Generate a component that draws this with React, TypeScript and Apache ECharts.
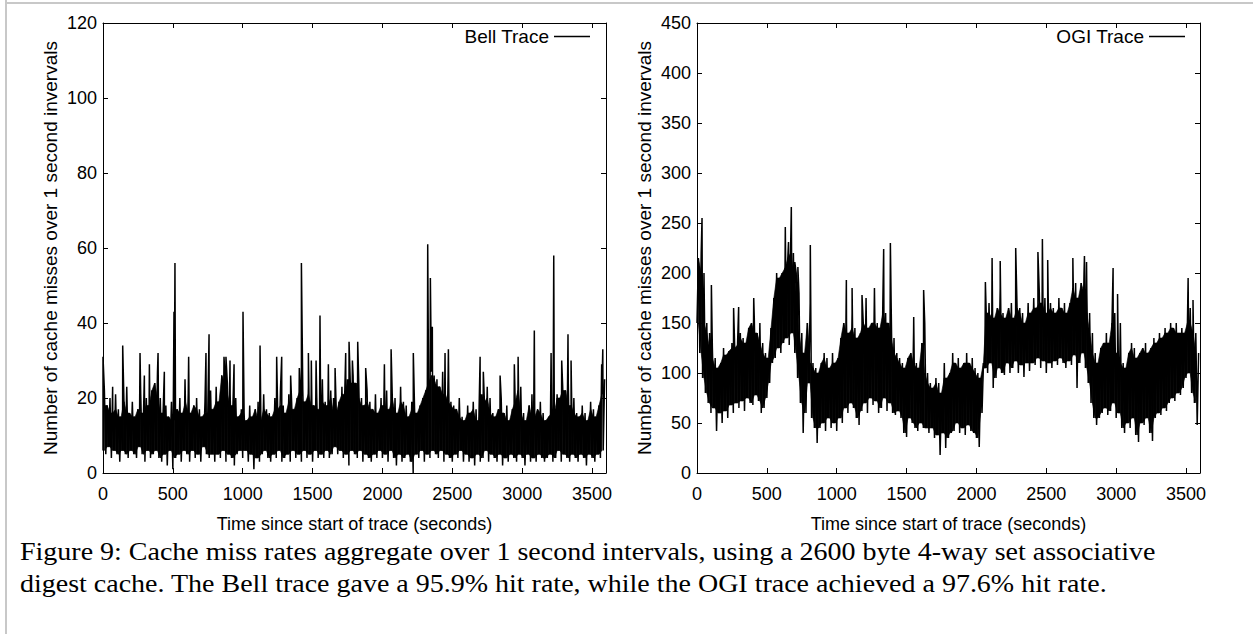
import React, { useEffect, useRef } from "react";
import * as echarts from "echarts";

// ---- data (20 s bins: low / high of the dense band, plus isolated spikes) ----
const BIN_SECONDS = 20;
const xTickMax = 3600;
const bellYMax = 120;
const ogiYMax = 450;

const bellLow = [
  6, 5, 7, 4, 6, 5, 3, 6, 5, 4,
  6, 5, 4, 7, 5, 3, 6, 4, 5, 6,
  4, 3, 5, 2, 6, 1, 4, 5, 3, 6,
  5, 3, 6, 4, 5, 3, 7, 5, 4, 5,
  3, 5, 4, 6, 3, 5, 4, 2, 5, 6,
  4, 6, 3, 5, 1, 4, 3, 5, 6, 4,
  3, 5, 4, 6, 3, 4, 5, 3, 6, 4,
  5, 3, 6, 4, 5, 3, 6, 4, 5, 4,
  6, 4, 5, 7, 5, 6, 4, 5, 2, 6,
  5, 4, 6, 3, 5, 4, 3, 5, 4, 6,
  4, 5, 3, 6, 4, 2, 5, 3, 4, 5,
  3, 0, 5, 4, 6, 3, 5, 4, 6, 5,
  4, 6, 3, 5, 4, 3, 5, 4, 6, 3,
  5, 3, 4, 2, 5, 3, 4, 6, 3, 5,
  4, 3, 5, 2, 4, 3, 5, 4, 3, 5,
  4, 2, 5, 3, 4, 3, 5, 4, 3, 4,
  5, 3, 4, 6, 3, 5, 4, 3, 5, 4,
  3, 5, 4, 2, 5, 4, 3, 5, 4, 6,
];

const bellHigh = [
  22, 18, 20, 16, 21, 17, 15, 19, 23, 16,
  19, 15, 17, 21, 16, 20, 18, 22, 24, 27,
  20, 16, 18, 15, 19, 14, 17, 20, 16, 19,
  21, 16, 18, 20, 17, 15, 19, 16, 22, 17,
  23, 19, 26, 28, 24, 21, 18, 20, 15, 17,
  16, 14, 18, 15, 17, 19, 14, 21, 17, 16,
  15, 20, 17, 22, 18, 16, 21, 19, 17, 20,
  24, 22, 19, 23, 21, 18, 20, 17, 25, 19,
  18, 22, 20, 16, 19, 23, 21, 25, 24, 26,
  24, 25, 20, 18, 22, 19, 17, 21, 16, 20,
  18, 22, 17, 21, 20, 16, 23, 19, 18, 15,
  19, 17, 16, 18, 20, 22, 24, 27, 26, 25,
  23, 25, 21, 26, 19, 18, 17, 20, 15, 14,
  18, 16, 19, 17, 14, 21, 19, 23, 20, 16,
  15, 17, 20, 16, 18, 14, 17, 19, 22, 23,
  16, 14, 18, 21, 15, 17, 19, 16, 14, 15,
  18, 16, 21, 20, 23, 22, 24, 18, 20, 16,
  15, 18, 16, 14, 19, 17, 15, 18, 21, 25,
];

const bellSpikes = [
  [0, 31], [69, 23], [141, 34], [265, 32], [296, 26], [332, 29], [394, 32], [439, 27],
  [508, 43], [515, 56], [587, 25], [613, 31], [737, 32], [759, 37], [866, 31], [880, 31],
  [909, 30], [938, 29], [1002, 43], [1124, 34], [1243, 31], [1279, 31], [1343, 26],
  [1405, 28], [1420, 56], [1470, 32], [1491, 30], [1525, 30], [1553, 42], [1613, 29],
  [1661, 28], [1737, 32], [1761, 35], [1785, 30], [1823, 35], [1880, 28], [2014, 29],
  [2062, 33], [2221, 32], [2324, 61], [2343, 52], [2357, 39], [2431, 27], [2448, 32],
  [2472, 33], [2699, 31], [2722, 27], [2842, 26], [2944, 29], [2971, 31], [3087, 38],
  [3207, 32], [3226, 58], [3283, 30], [3328, 37], [3350, 30], [3569, 29], [3577, 33],
];

const ogiLow = [
  150, 120, 95, 80, 70, 60, 65, 42, 60, 50,
  62, 55, 68, 60, 70, 65, 72, 62, 75, 70,
  68, 78, 72, 60, 65, 75, 90, 110, 115, 125,
  120, 130, 135, 128, 140, 120, 95, 70, 40, 60,
  90, 55, 45, 30, 45, 50, 42, 55, 45, 50,
  42, 55, 50, 65, 60, 70, 65, 55, 48, 62,
  70, 60, 75, 68, 72, 60, 65, 75, 62, 70,
  60, 58, 62, 55, 40, 36, 55, 50, 45, 42,
  50, 45, 45, 40, 45, 35, 38, 18, 40, 25,
  35, 40, 42, 50, 40, 45, 38, 48, 42, 40,
  35, 26, 60, 105, 100, 110, 85, 95, 105, 100,
  98, 110, 100, 105, 112, 100, 108, 96, 110, 102,
  110, 108, 115, 105, 112, 100, 110, 105, 112, 108,
  115, 110, 105, 112, 108, 118, 85, 110, 120, 105,
  90, 70, 55, 48, 55, 60, 65, 58, 62, 70,
  55, 60, 45, 40, 50, 45, 55, 38, 31, 50,
  48, 55, 40, 32, 55, 60, 58, 65, 62, 70,
  75, 72, 80, 78, 85, 95, 100, 80, 70, 48,
];

const ogiHigh = [
  215, 220, 200, 150, 140, 125, 115, 105, 110, 125,
  118, 122, 130, 125, 128, 140, 135, 130, 145, 150,
  155, 140, 150, 130, 120, 115, 145, 175, 200, 195,
  200, 205, 215, 225, 220, 200, 180, 140, 120, 150,
  170, 110, 105, 100, 110, 120, 115, 105, 120, 110,
  115, 135, 150, 150, 140, 160, 145, 135, 140, 150,
  175, 145, 150, 185, 150, 145, 170, 160, 150, 165,
  135, 120, 115, 110, 105, 115, 120, 140, 110, 105,
  130, 150, 100, 90, 85, 95, 90, 80, 110, 95,
  100, 120, 110, 115, 105, 110, 120, 110, 115, 105,
  100, 95, 110, 160, 170, 160, 155, 165, 185, 160,
  155, 165, 170, 155, 170, 165, 160, 150, 170, 160,
  175, 165, 180, 170, 175, 160, 170, 165, 160, 175,
  165, 170, 160, 170, 185, 190, 175, 190, 200, 180,
  160, 140, 120, 110, 125, 130, 140, 130, 150, 160,
  120, 150, 110, 105, 120, 130, 125, 115, 120, 125,
  130, 120, 125, 135, 130, 140, 135, 145, 140, 150,
  145, 150, 140, 145, 140, 150, 165, 150, 140, 120,
];

const ogiSpikes = [
  [36, 255], [103, 188], [262, 165], [298, 166], [406, 175], [632, 246], [655, 231],
  [675, 266], [700, 211], [722, 206], [811, 228], [1069, 193], [1110, 185], [1181, 178],
  [1272, 185], [1336, 224], [1384, 230], [1551, 156], [1622, 183], [2064, 191],
  [2112, 215], [2170, 212], [2281, 225], [2440, 221], [2472, 234], [2510, 213],
  [2690, 215], [2773, 217], [2788, 211], [2978, 205], [3010, 179], [3515, 195], [3550, 173],
];

const bellName = "Bell Trace";
const ogiName = "OGI Trace";
const xAxisTitle = "Time since start of trace (seconds)";
const yAxisTitle = "Number of cache misses over 1 second invervals";
const captionLines = [
  "Figure 9: Cache miss rates aggregate over 1 second intervals, using a 2600 byte 4-way set associative",
  "digest cache. The Bell trace gave a 95.9% hit rate, while the OGI trace achieved a 97.6% hit rate.",
];

// the trace: low of each bin, then its high, with the isolated spikes in time order
function buildTrace(low: number[], high: number[], spikes: number[][]) {
  const pts: number[][] = [];
  low.forEach((v, i) => {
    pts.push([i * BIN_SECONDS, v]);
    pts.push([i * BIN_SECONDS + BIN_SECONDS / 2, high[i]]);
  });
  spikes.forEach((s) => pts.push([s[0], s[1]]));
  pts.sort((a, b) => a[0] - b[0]);
  return pts;
}

// segments of the band that the dense trace covers solidly: [x0, x1, lo0, hi0, lo1, hi1]
function buildBand(low: number[], high: number[]) {
  const pts: number[][] = [];
  for (let i = 0; i < low.length - 1; i++) {
    const lo = Math.max(low[i], low[i + 1]);
    const hi = Math.max(lo, Math.min(high[i], high[i + 1]));
    pts.push([i * BIN_SECONDS + BIN_SECONDS / 2, lo, hi]);
  }
  const segs: number[][] = [];
  for (let j = 0; j < pts.length - 1; j++) {
    segs.push([pts[j][0], pts[j + 1][0], pts[j][1], pts[j][2], pts[j + 1][1], pts[j + 1][2]]);
  }
  return segs;
}

const renderBand = (_params: any, api: any) => {
  const x0 = api.value(0), x1 = api.value(1);
  const a = api.coord([x0, api.value(2)]);
  const b = api.coord([x1, api.value(4)]);
  const c = api.coord([x1, api.value(5)]);
  const d = api.coord([x0, api.value(3)]);
  return {
    type: "polygon",
    shape: { points: [a, b, c, d] },
    style: { fill: "#000", stroke: "#000", lineWidth: 0.6 },
  };
};

const SANS = '"Liberation Sans", Arial, Helvetica, sans-serif';
const SERIF = '25px "Liberation Serif", "Times New Roman", serif';

const mkLine = () => ({ show: true, onZero: false, lineStyle: { color: "#000", width: 1 } });
const mkTick = () => ({ show: true, inside: true, length: 5, lineStyle: { color: "#000", width: 1 } });

export default function App() {
  const ref = useRef<HTMLDivElement>(null);

  useEffect(() => {
    if (!ref.current) return;
    const chart = echarts.init(ref.current, undefined, { renderer: "svg" });

    const grids = [
      { left: 103, top: 23, width: 503, height: 450 },
      { left: 697, top: 23, width: 503, height: 450 },
    ];

    const xAxes: any[] = [];
    const yAxes: any[] = [];
    [0, 1].forEach((g) => {
      xAxes.push({
        gridIndex: g, type: "value", position: "bottom", min: 0, max: xTickMax, interval: 500,
        axisLine: mkLine(), axisTick: mkTick(), splitLine: { show: false },
        axisLabel: {
          fontSize: 18, color: "#000", fontFamily: SANS, margin: 12, showMaxLabel: false,
          formatter: (v: number) => String(v),
        },
        name: xAxisTitle, nameLocation: "middle", nameGap: 42,
        nameTextStyle: { fontSize: 18, color: "#000", fontFamily: SANS },
      });
      xAxes.push({
        gridIndex: g, type: "value", position: "top", min: 0, max: xTickMax, interval: 500,
        axisLine: mkLine(), axisTick: mkTick(), axisLabel: { show: false }, splitLine: { show: false },
      });
      const ymax = g === 0 ? bellYMax : ogiYMax;
      const yint = g === 0 ? 20 : 50;
      yAxes.push({
        gridIndex: g, type: "value", position: "left", min: 0, max: ymax, interval: yint,
        axisLine: mkLine(), axisTick: mkTick(), splitLine: { show: false },
        axisLabel: { fontSize: 18, color: "#000", fontFamily: SANS, margin: 6 },
        name: yAxisTitle, nameLocation: "middle", nameGap: 43, nameRotate: 90,
        nameTextStyle: { fontSize: 19, color: "#000", fontFamily: SANS },
      });
      yAxes.push({
        gridIndex: g, type: "value", position: "right", min: 0, max: ymax, interval: yint,
        axisLine: mkLine(), axisTick: mkTick(), axisLabel: { show: false }, splitLine: { show: false },
      });
    });

    chart.setOption({
      animation: false,
      backgroundColor: "#fff",
      grid: grids,
      xAxis: xAxes,
      yAxis: yAxes,
      legend: [
        {
          data: [bellName], right: 663, top: 27, align: "right", itemWidth: 36, itemHeight: 1.5,
          icon: "rect", textStyle: { fontSize: 19, color: "#000", fontFamily: SANS }, padding: 0,
        },
        {
          data: [ogiName], right: 68, top: 27, align: "right", itemWidth: 36, itemHeight: 1.5,
          icon: "rect", textStyle: { fontSize: 19, color: "#000", fontFamily: SANS }, padding: 0,
        },
      ],
      series: [
        {
          name: "bell band", type: "custom", xAxisIndex: 0, yAxisIndex: 0, renderItem: renderBand,
          data: buildBand(bellLow, bellHigh), encode: { x: [0, 1], y: [2, 3, 4, 5] }, silent: true, z: 1,
        },
        {
          name: "ogi band", type: "custom", xAxisIndex: 2, yAxisIndex: 2, renderItem: renderBand,
          data: buildBand(ogiLow, ogiHigh), encode: { x: [0, 1], y: [2, 3, 4, 5] }, silent: true, z: 1,
        },
        {
          name: bellName, type: "line", xAxisIndex: 0, yAxisIndex: 0,
          data: buildTrace(bellLow, bellHigh, bellSpikes), symbol: "none",
          lineStyle: { color: "#000", width: 1.5 }, itemStyle: { color: "#000" }, silent: true, z: 2,
        },
        {
          name: ogiName, type: "line", xAxisIndex: 2, yAxisIndex: 2,
          data: buildTrace(ogiLow, ogiHigh, ogiSpikes), symbol: "none",
          lineStyle: { color: "#000", width: 1.5 }, itemStyle: { color: "#000" }, silent: true, z: 2,
        },
      ],
      graphic: [
        { type: "rect", shape: { x: 5, y: 0, width: 2, height: 634 }, style: { fill: "#c8c8c8" } },
        { type: "rect", shape: { x: 5, y: 2, width: 1248, height: 2 }, style: { fill: "#c8c8c8" } },
        {
          type: "text", x: 20, y: 539, scaleX: 1.12,
          style: { text: captionLines[0], font: SERIF, fill: "#000" },
        },
        {
          type: "text", x: 20, y: 571, scaleX: 1.12,
          style: { text: captionLines[1], font: SERIF, fill: "#000" },
        },
      ],
    });

    return () => chart.dispose();
  }, []);

  return (
    <div
      ref={ref}
      style={{ position: "absolute", left: 0, top: 0, width: 1253, height: 634, background: "#fff" }}
    />
  );
}
